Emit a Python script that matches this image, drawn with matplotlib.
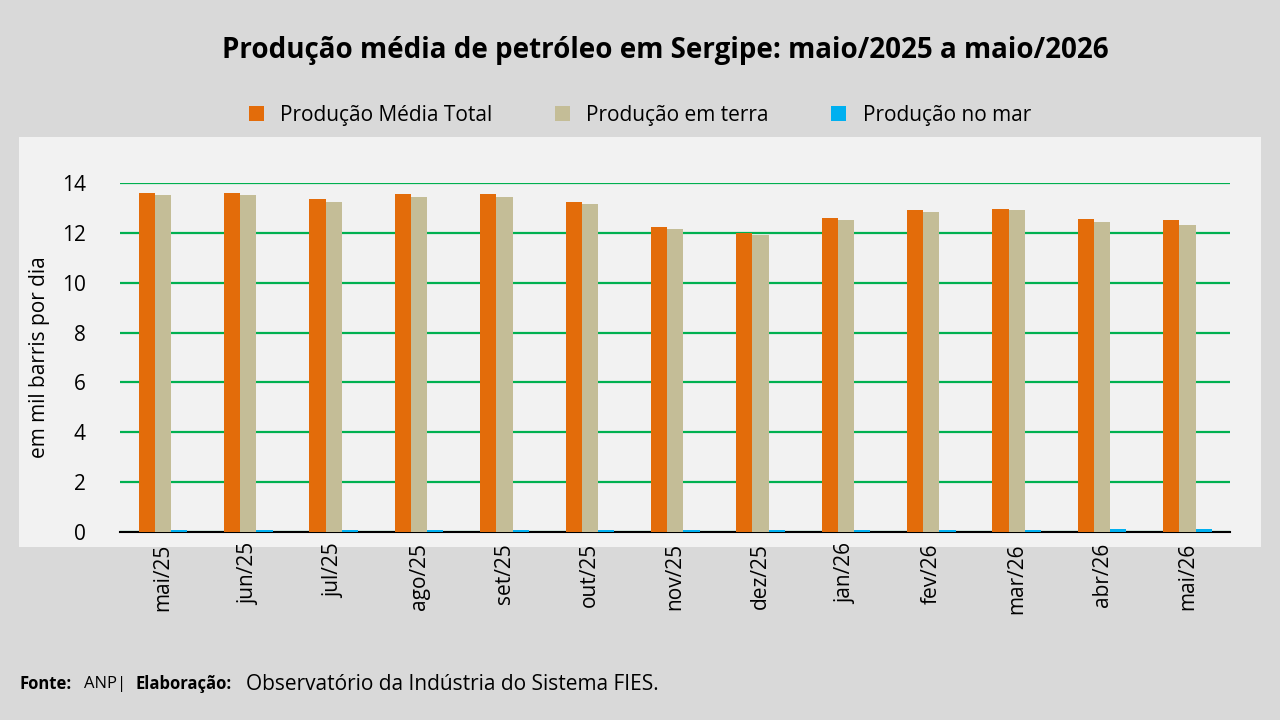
import numpy as np
import matplotlib.pyplot as plt

months = ['mai/25', 'jun/25', 'jul/25', 'ago/25', 'set/25', 'out/25', 'nov/25',
          'dez/25', 'jan/26', 'fev/26', 'mar/26', 'abr/26', 'mai/26']
total = [13.6, 13.6, 13.35, 13.55, 13.55, 13.25, 12.25, 12.0, 12.6, 12.9, 12.95, 12.55, 12.5]
terra = [13.5, 13.5, 13.25, 13.45, 13.45, 13.15, 12.15, 11.9, 12.5, 12.85, 12.9, 12.45, 12.3]
mar = [0.08, 0.08, 0.08, 0.08, 0.08, 0.08, 0.08, 0.08, 0.08, 0.08, 0.08, 0.12, 0.13]

plt.rcParams['font.family'] = ['Open Sans', 'DejaVu Sans']
fig = plt.figure(figsize=(12.8, 7.2), dpi=100, facecolor='#d9d9d9')

# light panel behind the plot
bg = fig.add_axes([0.015, 0.24, 0.97, 0.57], zorder=-1)
bg.set_facecolor('#f2f2f2')
bg.set_xticks([]); bg.set_yticks([])
for s in bg.spines.values():
    s.set_visible(False)

ax = fig.add_axes([0.094, 0.261, 0.867, 0.485])
ax.set_facecolor('#f2f2f2')

x = np.arange(len(months))
w = 0.19
ax.bar(x - w, total, w, color='#e36c0a', label='Produção Média Total', zorder=3)
ax.bar(x, terra, w, color='#c4bd97', label='Produção em terra', zorder=3)
ax.bar(x + w, mar, w, color='#00b0f0', label='Produção no mar', zorder=3)

ax.set_ylim(0, 14)
ax.set_xlim(-0.5, len(months) - 0.5)
ax.set_yticks(range(0, 15, 2))
ax.grid(axis='y', color='#00b050', linewidth=1.6, zorder=1)
for s in ['top', 'right', 'left']:
    ax.spines[s].set_visible(False)
ax.spines['bottom'].set_color('black')
ax.spines['bottom'].set_linewidth(1.5)
ax.tick_params(axis='y', length=0, labelsize=15, pad=25)
ax.tick_params(axis='x', length=0, labelsize=15, pad=8)
ax.set_xticks(x)
ax.set_xticklabels(months, rotation=90)
ax.set_ylabel('em mil barris por dia', fontsize=15, labelpad=8)

fig.text(0.52, 0.93, 'Produção média de petróleo em Sergipe: maio/2025 a maio/2026',
         ha='center', va='center', fontsize=20, fontweight='bold')
fig.legend(loc='center', bbox_to_anchor=(0.5, 0.84), ncol=3, frameon=False,
           fontsize=15, handlelength=0.7, handleheight=0.7, columnspacing=3)
fig.text(0.015, 0.05, 'Fonte:', fontsize=12, fontweight='bold', va='center')
fig.text(0.066, 0.05, 'ANP|', fontsize=12, va='center')
fig.text(0.106, 0.05, 'Elaboração:', fontsize=12, fontweight='bold', va='center')
fig.text(0.192, 0.05, 'Observatório da Indústria do Sistema FIES.', fontsize=15, va='center')
fig.savefig('out.png', dpi=100, facecolor=fig.get_facecolor())
